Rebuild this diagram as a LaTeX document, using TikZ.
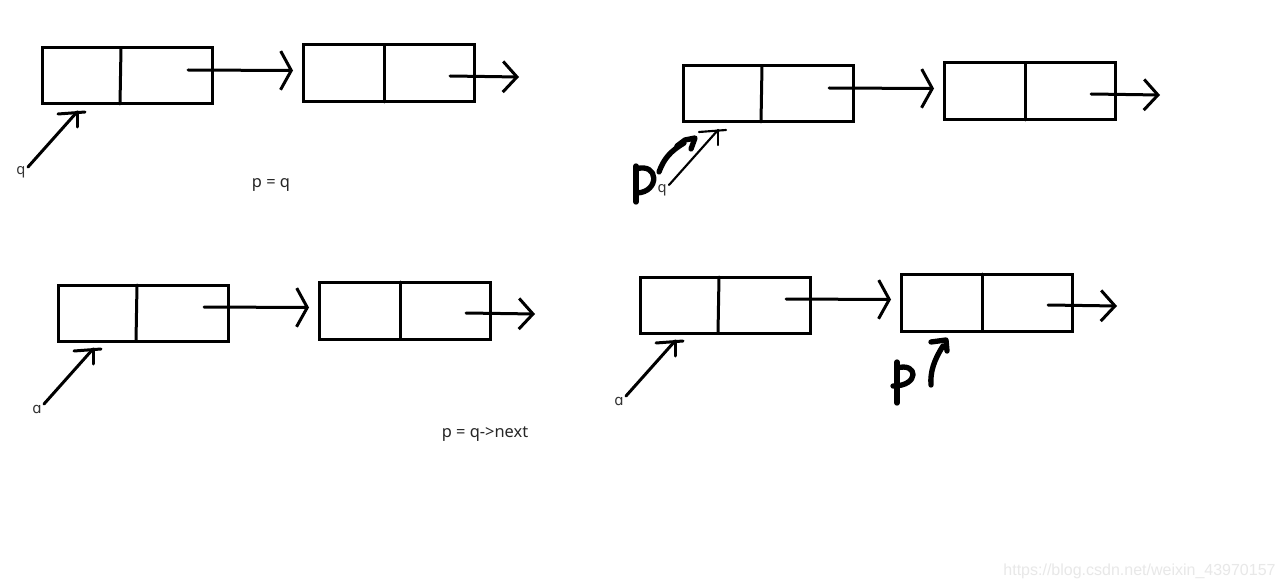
\documentclass[tikz,border=0pt]{standalone}
\usepackage{fontspec}
\setmainfont{Noto Sans}
\newfontfamily\wmfont{Liberation Sans}
\newfontfamily\ipafont{DejaVu Sans}
\usetikzlibrary{arrows.meta}
\tikzset{
  cell/.style={draw, line width=2.25pt, minimum width=127.5pt, minimum height=42pt, inner sep=0pt, outer sep=0pt},
  cellb/.style={cell, minimum width=128.25pt, minimum height=42.75pt},
  ink/.style={line width=2.25pt, line cap=round, line join=round},
  thinink/.style={line width=1.6pt, line cap=round, line join=round},
  pen/.style={line width=4pt, line cap=round, line join=round},
  lbl/.style={font=\fontsize{11}{13}\selectfont, text=black!80, inner sep=0pt},
  txt/.style={font=\fontsize{12.3}{14}\selectfont, text=black!85, inner sep=0pt},
  wm/.style={font=\wmfont\fontsize{12}{14}\selectfont, text=black!9, inner sep=0pt},
  tipA/.style={-{Straight Barb[length=8pt,width=29pt]}},
  tipB/.style={-{Straight Barb[length=10.5pt,width=23pt]}},
}
\newcommand\listpair[5]{%
\begin{scope}[shift={(#1,#2)}]
  \node[cell] (#3a) at (127,76) {};
  \node[cellb] (#3b) at (388.5,73.5) {};
  \draw[ink] (#3a.north west) ++(79,0) -- ++(-1,56);
  \draw[ink] (#3b.north west) ++(81,0) -- ++(0,57);
  \coordinate (#3s) at (188,70);
  \coordinate (#3e) at (293,70.5);
  \draw[ink,tipA] (#3s) -- (#3e);
  \coordinate (#3u) at (450,76);
  \coordinate (#3v) at (519,77);
  \draw[ink,tipB] (#3u) -- (#3v);
  \node[lbl] (#3l) at (21,172.5) {#4};
  \coordinate (#3f) at (28,167);
  \coordinate (#3t) at (77,112);
  \draw[#5] (#3f) -- (#3t);
  \draw[#5] (58,114) -- (85,112);
  \draw[#5] (#3t) -- ++(0,15);
\end{scope}}
\begin{document}
\begin{tikzpicture}[x=0.75pt,y=-0.75pt]
  \useasboundingbox[fill=white] (0,0) rectangle (1284,588);
  \listpair{0}{0}{g}{q}{ink}
  \listpair{641}{18}{h}{q}{thinink}
  \listpair{16}{237}{k}{{\ipafont ɑ}}{ink}
  \listpair{598}{229}{m}{{\ipafont ɑ}}{ink}
  \node[txt] (t1) at (271,185) {p = q};
  \node[txt] (t2) at (485,434.5) {p = q->next};
  % handwritten p (top right)
  \draw[pen] (636,166) -- (636,202);
  \draw[pen] (636,169) .. controls (659,162) and (660,192) .. (637,193);
  \draw[pen] (659,172) .. controls (664,158) and (671,151) .. (684,143);
  \draw[pen] (677,146) -- (685,140) -- (695,138) -- (691,149);
  % handwritten p (bottom right)
  \draw[pen] (897,362) -- (897,403);
  \draw[pen] (897,368) .. controls (918,362) and (920,386) .. (893,386);
  \draw[pen] (931,342) -- (946,340) -- (947,351);
  \draw[pen] (943,346) .. controls (934,360) and (930,372) .. (931,385);
  \node[wm] (w) at (1139.5,571) {https://blog.csdn.net/weixin\_43970157};
\end{tikzpicture}
\end{document}
